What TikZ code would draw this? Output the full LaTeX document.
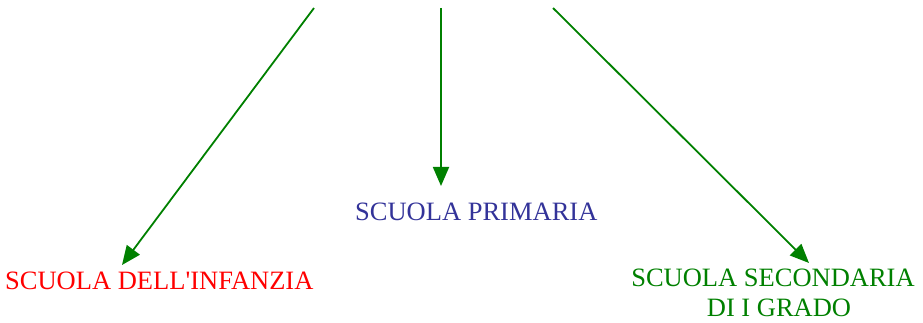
\documentclass[tikz,border=0pt]{standalone}
\usepackage{fontspec}
\setmainfont{Liberation Serif}
\usetikzlibrary{arrows.meta}
\definecolor{arrgreen}{HTML}{008000}
\definecolor{primblue}{HTML}{333399}
\definecolor{infred}{HTML}{FF0000}
\tikzset{
  conn/.style={draw=arrgreen, line width=1.8pt, -{Triangle[length=19pt,width=16pt]}},
  label/.style={inner sep=0pt, font=\fontsize{26.5}{30}\selectfont}
}
\begin{document}
\begin{tikzpicture}[x=1pt,y=-1pt]
\useasboundingbox (0,0) rectangle (923,323);
\node[label, text=infred, anchor=base west] (inf) at (5,289) {SCUOLA DELL\textquotesingle INFANZIA};
\node[label, text=primblue, anchor=base west] (prim) at (355,220) {SCUOLA PRIMARIA};
\node[label, text=arrgreen, anchor=north, align=center] (sec) at (773,268.5) {SCUOLA SECONDARIA\\\hspace*{12pt}DI I GRADO};
\coordinate (s1) at (314,8);
\coordinate (s2) at (441,8);
\coordinate (s3) at (553,8);
\coordinate (e1) at (122,265);
\coordinate (e2) at (441,186);
\coordinate (e3) at (809,263);
\draw[conn] (s1) -- (e1);
\draw[conn] (s2) -- (e2);
\draw[conn] (s3) -- (e3);
\end{tikzpicture}
\end{document}
